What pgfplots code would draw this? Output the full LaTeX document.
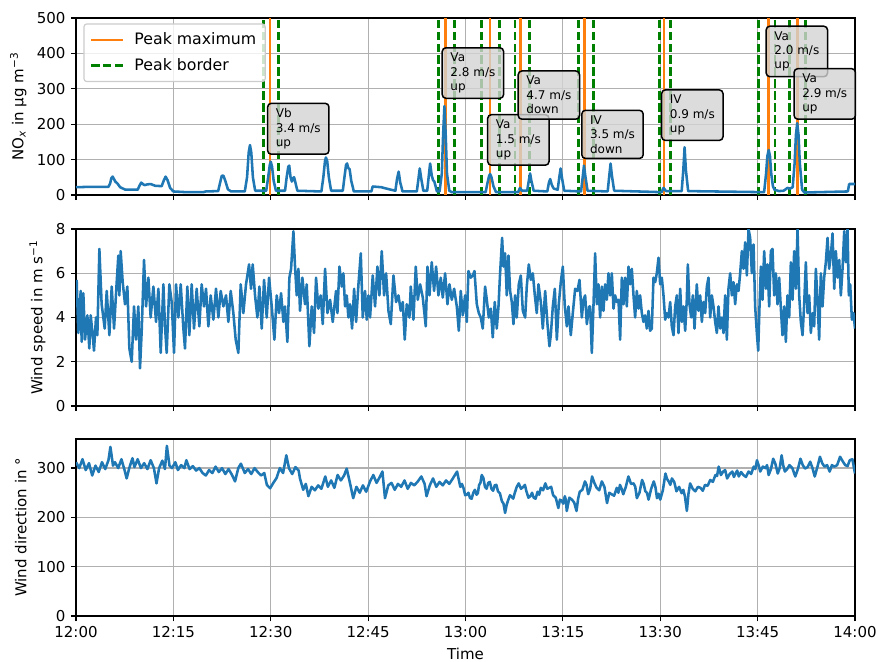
\documentclass[border=0pt]{standalone}
\usepackage{fontspec}
\setmainfont{DejaVu Sans}
\usepackage{pgfplots}
\pgfplotsset{compat=1.18}
\definecolor{mblue}{HTML}{1F77B4}
\definecolor{morange}{HTML}{FF7F0E}
\definecolor{mgreen}{HTML}{008000}
\definecolor{mgrid}{HTML}{B0B0B0}
\definecolor{mbox}{HTML}{D3D3D3}
\tikzset{
  annot/.style={draw=black, line width=1pt, rounded corners=2.5pt, fill=mbox,
    fill opacity=0.8, text opacity=1, align=left,
    font=\fontsize{8}{9.6}\selectfont, inner xsep=5.5pt, inner ysep=3.5pt, anchor=south west},
  pmax/.style={morange, line width=1.7pt},
  pbor/.style={mgreen, line width=1.7pt, dash pattern=on 5.55pt off 2.4pt},
  dline/.style={mblue, line width=1.7pt, line join=round},
}
\pgfplotsset{
  panel/.style={
    width=519.33pt, height=118pt, scale only axis,
    xmin=0, xmax=120, enlargelimits=false,
    xtick={0,15,...,120},
    grid=major, major grid style={mgrid, line width=0.8pt},
    axis line style={line width=0.8pt},
    every tick/.style={black, line width=0.8pt},
    tick align=outside, major tick length=3.5pt,
    xtick pos=left, ytick pos=left,
    tick label style={font=\fontsize{10}{12}\selectfont},
    label style={font=\fontsize{10}{12}\selectfont},
    /pgf/number format/assume math mode=true,
  },
}
\begin{document}
\begin{tikzpicture}
\path[use as bounding box] (-50.67pt,12pt) rectangle (534.67pt,-429.33pt);
% ---------------- NOx: frame, peak lines, legend ----------------
\begin{axis}[panel, name=top, at={(0,0)}, anchor=north west,
  ymin=0, ymax=500, ytick={0,100,...,500}, xticklabels={},
  ylabel={NO\textsubscript{\textit{x}} in µg m\textsuperscript{−3}},
  legend cell align=left,
  legend style={at={(0.0094,0.97)}, anchor=north west, draw=black!20, line width=0.8pt,
    rounded corners=2pt, fill=white, fill opacity=0.8, text opacity=1, draw opacity=1,
    font=\fontsize{10.5}{12.6}\selectfont, inner xsep=4pt, inner ysep=4pt, row sep=3.5pt,
    /tikz/every odd column/.append style={column sep=5pt}},
  legend image code/.code={\draw[#1] (0pt,0pt) -- (21pt,0pt);},
]
\addplot[pmax] coordinates {(29.9,0) (29.9,500)};
\addlegendentry{Peak maximum}
\addplot[pbor] coordinates {(28.9,0) (28.9,500)};
\addlegendentry{Peak border}
\addplot[pbor, forget plot] coordinates {(31.2,0) (31.2,500)};
\addplot[pmax, forget plot] coordinates {(56.9,0) (56.9,500)};
\addplot[pbor, forget plot] coordinates {(55.8,0) (55.8,500)};
\addplot[pbor, forget plot] coordinates {(58.3,0) (58.3,500)};
\addplot[pmax, forget plot] coordinates {(63.8,0) (63.8,500)};
\addplot[pbor, forget plot] coordinates {(62.5,0) (62.5,500)};
\addplot[pbor, forget plot] coordinates {(65.2,0) (65.2,500)};
\addplot[pmax, forget plot] coordinates {(68.5,0) (68.5,500)};
\addplot[pbor, forget plot] coordinates {(67.6,0) (67.6,500)};
\addplot[pbor, forget plot] coordinates {(69.85,0) (69.85,500)};
\addplot[pmax, forget plot] coordinates {(78.3,0) (78.3,500)};
\addplot[pbor, forget plot] coordinates {(77.4,0) (77.4,500)};
\addplot[pbor, forget plot] coordinates {(79.7,0) (79.7,500)};
\addplot[pmax, forget plot] coordinates {(90.6,0) (90.6,500)};
\addplot[pbor, forget plot] coordinates {(89.9,0) (89.9,500)};
\addplot[pbor, forget plot] coordinates {(91.6,0) (91.6,500)};
\addplot[pmax, forget plot] coordinates {(106.7,0) (106.7,500)};
\addplot[pbor, forget plot] coordinates {(105.1,0) (105.1,500)};
\addplot[pbor, forget plot] coordinates {(107.7,0) (107.7,500)};
\addplot[pmax, forget plot] coordinates {(111.1,0) (111.1,500)};
\addplot[pbor, forget plot] coordinates {(109.9,0) (109.9,500)};
\addplot[pbor, forget plot] coordinates {(112.4,0) (112.4,500)};
\end{axis}
% ---------------- NOx: data and annotations on top ----------------
\begin{axis}[panel, at={(0,0)}, anchor=north west, hide axis, clip=false,
  ymin=0, ymax=500]
\addplot[dline] coordinates {
(0,22) (2,23) (5,23) (5.25,32) (5.45,48) (5.65,52) (5.85,45) (6.05,38) (6.4,32) (6.8,22) (7.6,15) (9.5,15)
(9.75,25) (10.05,35) (10.35,30) (10.6,28) (11.0,30) (11.5,31) (12.2,26) (13.2,25) (13.5,40) (13.8,52) (14.1,42) (14.5,20) (15.0,10)
(17,8) (19.6,8) (20,10) (21.9,11) (22.2,35) (22.45,54) (22.7,55) (23.0,40) (23.4,16) (23.9,10)
(26.0,10) (26.35,50) (26.6,120) (26.8,141) (27.0,120) (27.25,50) (27.6,12) (29.3,12) (29.6,50) (29.85,85) (30.0,94) (30.2,80) (30.45,40) (30.8,12)
(32.2,12) (32.45,50) (32.7,80) (32.85,83) (33.05,50) (33.25,38) (33.45,48) (33.6,50) (33.8,35) (34.1,12) (37.8,10) (38.1,50) (38.35,95) (38.5,106) (38.7,95) (38.95,50) (39.3,12)
(41.1,12) (41.35,50) (41.6,85) (41.75,89) (41.95,76) (42.15,73) (42.4,40) (42.8,10) (45.5,10) (45.7,24) (47.0,22) (48.5,15) (49.2,12) (49.45,45) (49.7,66) (49.95,35) (50.3,10)
(52.5,10) (52.75,45) (52.95,75) (53.15,50) (53.5,12) (54.1,12) (54.35,55) (54.55,89) (54.8,55) (55.0,42) (55.2,38) (55.6,10)
(56.0,10) (56.35,60) (56.55,170) (56.75,251) (56.95,170) (57.15,60) (57.5,12) (57.9,8) (63.1,8) (63.4,35) (63.65,55) (63.8,59) (64.0,50) (64.3,25) (64.7,8)
(68.1,8) (68.4,20) (68.7,12) (69.5,12) (69.75,40) (69.95,61) (70.15,40) (70.5,12) (72.6,10) (72.85,35) (73.05,45) (73.3,28) (73.6,18) (74.2,15) (74.45,50) (74.65,75) (74.85,50) (75.2,12)
(77.8,10) (78.05,50) (78.25,83) (78.45,55) (78.8,12) (81.9,10) (82.15,55) (82.35,89) (82.55,55) (82.9,12)
(90.2,8) (90.5,20) (90.9,11) (93.3,11) (93.55,70) (93.75,135) (93.95,70) (94.3,11)
(106.0,8) (106.3,60) (106.5,110) (106.7,127) (106.9,110) (107.1,60) (107.35,25) (107.6,15) (108.3,11) (109,12) (109.6,20) (110.0,18) (110.4,22) (110.7,90) (110.9,170) (111.1,203) (111.3,170) (111.5,90) (111.85,15) (112.2,7) (118.9,10) (119.1,31) (120,31)};
\node[annot] at (axis cs:29.4,113) {Vb\\3.4 m/s\\up};
\node[annot] at (axis cs:56.3,271) {Va\\2.8 m/s\\up};
\node[annot] at (axis cs:63.3,82) {Va\\1.5 m/s\\up};
\node[annot] at (axis cs:68.0,212) {Va\\4.7 m/s\\down};
\node[annot] at (axis cs:77.8,101) {IV\\3.5 m/s\\down};
\node[annot] at (axis cs:90.1,152) {IV\\0.9 m/s\\up};
\node[annot] at (axis cs:106.2,332) {Va\\2.0 m/s\\up};
\node[annot] at (axis cs:110.5,212) {Va\\2.9 m/s\\up};
\end{axis}
% ---------------- Wind speed ----------------
\begin{axis}[panel, at={(0,-140.67pt)}, anchor=north west,
  ymin=0, ymax=8, ytick={0,2,4,6,8}, xticklabels={},
  ylabel={Wind speed in m s\textsuperscript{−1}}]
\addplot[dline] coordinates {
(0.1,5.7) (0.36,3.3) (0.72,5.2) (0.87,2.9) (1.13,5.1) (1.39,3.0) (1.75,4.1) (2.05,2.6) (2.26,4.1) (2.57,3.2)
(2.77,2.5) (3.08,4.0) (3.29,3.2) (3.6,7.1) (3.95,4.6) (4.21,4.0) (4.42,3.5) (4.73,5.2) (5.14,3.2) (5.5,5.4)
(5.86,3.5) (6.27,5.6) (6.52,6.8) (6.68,5.0) (6.88,7.0) (7.19,5.6) (7.55,4.6) (7.91,5.4) (8.22,2.6) (8.58,2.0)
(8.94,4.5) (9.24,3.0) (9.6,4.5) (9.86,1.7) (10.12,3.4) (10.48,6.6) (10.79,4.5) (11.15,5.8) (11.5,4.0) (11.92,5.4)
(12.33,3.8) (12.69,5.3) (13.05,2.4) (13.46,5.5) (13.71,3.6) (13.97,2.4) (14.38,5.5) (14.74,4.7) (15.1,2.4) (15.41,5.5)
(15.77,4.0) (16.13,5.5) (16.54,3.5) (16.79,2.6) (17.15,5.4) (17.46,3.2) (17.82,5.5) (18.18,3.5) (18.59,5.3) (19.0,3.6)
(19.36,5.5) (19.72,4.5) (20.03,5.3) (20.39,3.6) (20.75,5.0) (21.16,3.9) (21.57,5.3) (21.93,4.0) (22.29,5.2) (22.7,4.5)
(23.11,5.0) (23.47,3.8) (23.83,5.2) (24.24,4.2) (24.6,3.0) (25.01,2.4) (25.37,5.5) (25.78,4.2) (26.19,5.5) (26.66,6.4)
(26.96,5.3) (27.22,6.4) (27.58,5.0) (27.94,4.0) (28.25,5.4) (28.61,3.5) (28.97,5.7) (29.38,4.0) (29.74,5.8) (30.15,4.5)
(30.56,3.0) (30.92,5.0) (31.28,4.2) (31.59,5.1) (31.95,3.8) (32.2,4.5) (32.56,2.9) (32.87,5.8) (33.13,6.2) (33.49,7.9)
(33.74,6.3) (34.0,5.0) (34.26,6.2) (34.51,4.3) (34.87,5.8) (35.28,4.6) (35.54,5.5) (35.95,2.7) (36.31,4.5) (36.67,3.3)
(36.98,5.8) (37.34,4.4) (37.7,5.0) (38.01,3.7) (38.37,6.2) (38.73,4.2) (39.14,4.8) (39.55,3.8) (39.91,4.8)
(40.06,5.2) (40.27,4.2) (40.58,6.3) (40.94,5.4) (41.19,6.0) (41.45,4.5) (41.71,5.0) (41.96,4.0) (42.22,4.6) (42.53,3.5)
(42.84,5.3) (43.15,3.8) (43.51,5.5) (43.87,6.9) (44.17,4.0) (44.53,5.2) (44.79,3.9) (45.05,5.0) (45.3,4.0) (45.71,5.9)
(46.07,4.5) (46.43,6.3) (46.74,5.0) (47.1,7.0) (47.46,5.0) (47.77,6.0) (48.13,4.3) (48.49,3.7) (48.9,5.9) (49.31,4.7)
(49.67,5.0) (50.03,4.3) (50.34,4.7) (50.64,3.0) (50.95,4.6) (51.36,4.0) (51.57,5.4) (51.98,3.9) (52.34,6.3) (52.65,4.8)
(53.01,5.5) (53.42,4.9) (53.88,3.6) (54.14,6.3) (54.45,5.0) (54.8,6.5) (55.16,5.2) (55.47,6.3) (55.83,5.0) (56.19,5.8)
(56.5,4.9) (56.86,6.0) (57.22,4.6) (57.53,5.5) (57.89,4.8) (58.25,5.3) (58.66,4.5) (58.97,3.4) (59.27,5.2) (59.58,4.1)
(59.94,5.0) (60.2,3.8) (60.45,6.1) (60.81,5.8) (61.12,5.9) (61.38,6.1) (61.74,4.6) (62.05,4.2) (62.35,4.0) (62.66,3.5)
(63.02,5.4) (63.28,4.8) (63.59,4.0) (63.9,4.4) (64.2,3.1) (64.51,4.7) (64.82,3.5) (65.08,4.5) (65.33,6.0) (65.64,7.6)
(65.85,6.3) (66.1,6.9) (66.36,5.0) (66.62,6.8) (66.87,5.2) (67.13,4.7) (67.39,3.7) (67.64,5.0) (67.9,4.0) (68.21,5.5)
(68.52,5.9) (68.83,4.3) (69.19,4.0) (69.44,5.4) (69.75,6.4) (70.06,5.7) (70.37,6.0) (70.68,5.0) (70.98,4.2) (71.24,5.5)
(71.6,4.7) (71.91,3.5) (72.27,5.2) (72.63,3.7) (72.93,2.7) (73.14,3.2) (73.45,4.5) (73.76,5.3) (74.07,3.0) (74.37,4.6)
(74.68,5.6) (74.99,6.3) (75.3,4.5) (75.61,3.6) (75.86,4.5) (76.22,3.2) (76.53,4.2) (76.89,5.3) (77.25,5.2) (77.56,5.7)
(77.92,4.0) (78.17,4.8) (78.43,5.0) (78.69,3.7) (79.05,4.5)
(79.2,4.5) (79.46,2.4) (79.71,4.5) (79.97,6.9) (80.23,4.6) (80.48,5.5) (80.74,4.0) (81.0,5.4) (81.25,4.3) (81.51,5.5)
(81.77,4.8) (82.02,6.0) (82.28,5.0) (82.54,6.0) (82.8,4.4) (83.05,5.0) (83.31,4.7) (83.57,4.8) (83.82,3.0) (84.08,5.8)
(84.34,4.6) (84.59,5.8) (84.85,4.5) (85.11,6.3) (85.36,5.5) (85.62,6.2) (85.88,5.0) (86.13,4.0) (86.39,5.2) (86.65,4.4)
(86.9,5.0) (87.16,4.2) (87.42,3.8) (87.67,4.1) (87.93,3.5) (88.19,4.3) (88.44,3.4) (88.7,3.5) (88.96,5.8) (89.22,5.6)
(89.47,6.0) (89.73,6.7) (89.99,5.5) (90.24,5.8) (90.5,5.0) (90.76,3.9) (91.01,4.2) (91.27,4.0) (91.53,4.7) (91.78,3.6)
(92.04,3.2) (92.3,4.5) (92.55,5.0) (92.81,3.3) (93.07,5.3) (93.32,3.8) (93.58,4.5) (93.84,3.4) (94.09,4.8) (94.25,6.4)
(94.5,4.6) (94.76,4.0) (95.02,5.0) (95.28,3.5) (95.63,5.5) (95.89,4.3) (96.15,5.0) (96.41,3.8) (96.66,4.7) (96.92,4.2)
(97.18,5.4) (97.43,5.8) (97.69,4.0) (97.95,5.0) (98.2,4.5) (98.46,3.8) (98.72,3.3) (98.97,4.5) (99.23,3.5) (99.49,4.0)
(99.74,3.3) (100.0,5.0) (100.26,3.0) (100.51,5.3) (100.77,6.0) (101.03,5.0) (101.28,5.6) (101.54,4.6) (101.8,5.5) (102.06,5.2)
(102.31,6.0) (102.57,7.0) (102.83,6.2) (103.08,7.4) (103.34,5.9) (103.6,8.0) (103.85,7.6) (104.11,6.0) (104.37,7.3) (104.62,4.5)
(104.88,3.3) (105.09,2.5) (105.29,4.5) (105.5,6.3) (105.75,4.8) (106.01,7.0) (106.27,5.3) (106.52,6.4) (106.78,4.5) (107.04,7.0)
(107.29,7.1) (107.55,5.0) (107.81,6.0) (108.06,4.6) (108.32,5.8) (108.58,4.4) (108.83,3.2) (109.09,4.5) (109.35,2.9) (109.6,5.0)
(109.86,4.0) (110.12,6.5) (110.38,4.8) (110.63,7.0) (110.89,5.3) (111.15,8.0) (111.4,5.0) (111.66,3.8) (111.92,3.2) (112.17,4.6)
(112.43,6.5) (112.69,4.2) (112.94,5.0) (113.2,3.3) (113.46,4.2) (113.71,3.6) (113.97,6.2) (114.23,4.8) (114.48,3.0) (114.74,6.0)
(115.0,4.5) (115.25,5.8) (115.51,6.5) (115.77,7.6) (116.02,6.2) (116.28,6.8) (116.54,7.8) (116.8,5.3) (117.05,7.0) (117.31,5.8)
(117.57,6.6) (117.82,5.0) (118.08,6.2) (118.34,7.9) (118.59,6.5) (118.85,8.0) (119.05,5.0) (119.26,5.5) (119.52,3.9) (119.77,4.2)
(120.0,3.5)};
\end{axis}
% ---------------- Wind direction ----------------
\begin{axis}[panel, at={(0,-280.67pt)}, anchor=north west,
  ymin=0, ymax=359, ytick={0,100,200,300},
  xticklabels={12:00,12:15,12:30,12:45,13:00,13:15,13:30,13:45,14:00},
  xlabel={Time}, ylabel={Wind direction in °}]
\addplot[dline] coordinates {
(0,312) (0.5,300) (1,318) (1.5,296) (2,310) (2.5,285) (3,305) (3.5,292) (4,312) (4.5,298)
(5,316) (5.3,343) (5.7,305) (6,312) (6.5,300) (7,318) (7.5,295) (7.8,279) (8.2,300) (8.7,320)
(9,302) (9.5,318) (10,300) (10.5,310) (11,298) (11.5,316) (12,300) (12.4,269) (12.8,300) (13.3,315)
(13.7,298) (14,345) (14.4,305) (14.8,300) (15.3,312) (15.7,296) (16.2,306) (16.7,300) (17,316) (17.5,298)
(18,304) (18.5,295) (19,300) (19.5,290) (20,285) (20.5,296) (21,290) (21.5,303) (22,292) (22.5,300)
(23,288) (23.5,298) (24,287) (24.5,273) (25,300) (25.4,309) (26,290) (26.5,298) (27,288) (27.5,300)
(28,292) (28.5,285) (29,290) (29.4,266) (29.9,259) (30.4,270) (30.9,280) (31.4,300) (31.9,290) (32.4,326)
(32.8,300) (33.3,288) (33.8,302) (34.3,295) (34.5,279) (35,256) (35.4,268) (35.8,243) (36.3,262) (36.8,255)
(37.3,265) (37.8,258) (38.4,283) (38.8,262) (39.3,275) (39.8,260) (40.3,286) (40.8,275) (41.3,285) (41.7,299)
(42.2,270) (42.7,239) (43.2,262) (43.7,250) (44.2,265) (44.7,252) (45.3,273) (45.8,286) (46.3,270) (46.8,282)
(47.2,293) (47.6,239) (48.1,265) (48.6,270) (49.1,256) (49.6,268) (50.1,262) (50.6,275) (51.1,258) (51.6,270)
(52.1,265) (52.6,272) (53.2,283) (53.7,268) (54,243) (54.5,265) (55,279) (55.5,262) (56,272) (56.5,265)
(57,275) (57.5,268) (58,278) (58.7,293) (59.2,262) (59.45,268) (59.7,259) (59.95,245) (60.2,246) (60.45,250)
(60.7,239) (60.95,238) (61.2,250) (61.45,256) (61.7,246) (61.9,249) (62.1,266) (62.3,270) (62.5,286) (62.75,280)
(63,262) (63.25,258) (63.5,270) (63.75,272) (64,258) (64.25,254) (64.5,265) (64.75,266) (65,253) (65.3,249)
(65.6,233) (65.85,228) (66.1,209) (66.35,226) (66.6,236) (66.85,245) (67.1,242) (67.35,238) (67.6,250) (67.9,262)
(68.2,269) (68.55,258) (68.9,262) (69.15,266) (69.4,252) (69.7,240) (70,243) (70.25,250) (70.5,240) (70.8,238)
(71.1,252) (71.35,246) (71.6,260) (71.95,255) (72.3,269) (72.6,258) (72.9,260) (73.2,262) (73.5,245) (73.9,240)
(74.3,219) (74.55,236) (74.8,234) (75.05,228) (75.3,243) (75.45,236) (75.6,213) (76.0,240) (76.4,236) (76.75,230)
(77.1,213) (77.35,238) (77.6,252) (78.0,256) (78.4,273) (78.65,266) (78.9,247) (79.2,258) (79.5,283) (79.85,270)
(80.2,260) (80.6,255) (81,273) (81.4,262) (81.8,229) (82.15,250) (82.5,247) (82.9,244) (83.3,260) (83.55,250)
(83.8,266) (84.05,258) (84.3,247) (84.7,262) (85.1,283) (85.5,268) (85.9,269) (86.15,262) (86.4,239) (86.8,250)
(87.2,276) (87.45,268) (87.7,253) (87.95,250) (88.2,236) (88.6,258) (89,273) (89.25,262) (89.5,239) (89.75,248)
(90,236) (90.4,255) (90.8,289) (91.05,278) (91.3,273) (91.55,266) (91.8,279) (92.15,272) (92.5,253) (92.9,262)
(93.3,249) (93.55,256) (93.8,243) (94.1,213) (94.35,248) (94.6,269) (95.0,258) (95.4,253) (95.8,262) (96.2,260)
(96.55,254) (96.9,266) (97.3,264) (97.7,276) (98.1,272) (98.5,286) (98.75,284) (99,303) (99.35,286) (99.7,293)
(100.0,296) (100.3,279) (100.7,288) (101.1,293) (101.35,282) (101.6,289) (101.85,295) (102.1,283) (102.45,292) (102.8,286)
(103.2,282) (103.6,293) (104.0,288) (104.4,303) (104.65,298) (104.9,316) (105.15,306) (105.4,293) (105.8,303) (106.2,300)
(106.45,306) (106.7,286) (107.05,298) (107.4,319) (107.75,308) (108.1,289) (108.4,300) (108.7,326) (108.95,305) (109.2,293)
(109.55,298) (109.9,306) (110.35,300) (110.8,283) (111.2,298) (111.6,319) (111.95,306) (112.3,299) (112.7,302) (113.1,313)
(113.45,300) (113.8,283) (114.2,302) (114.6,323) (114.95,310) (115.3,303) (115.7,306) (116.1,293) (116.45,306) (116.8,303)
(117.25,306) (117.7,323) (118.1,314) (118.5,306) (118.85,304) (119.2,316) (119.6,318) (120,289)};
\end{axis}
\end{tikzpicture}
\end{document}
